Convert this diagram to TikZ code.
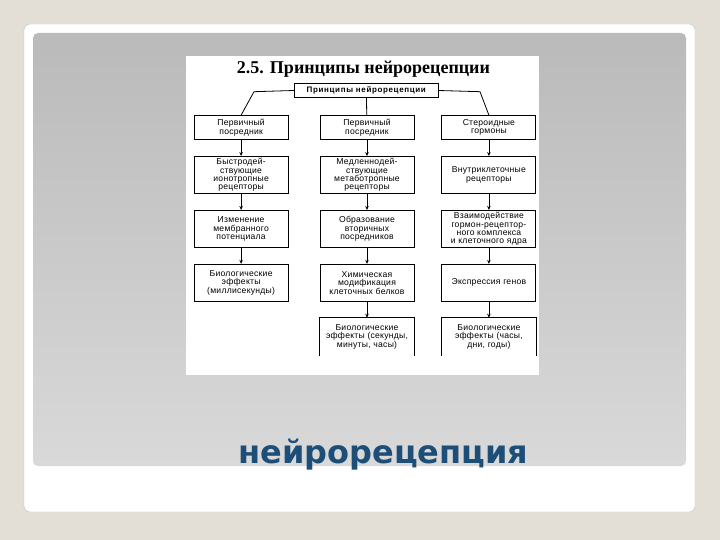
\documentclass[tikz,border=0pt]{standalone}
\usepackage{xcolor}
\usepackage{fontspec}
\usepackage{tikz}
\usetikzlibrary{positioning, arrows.meta}
\newfontfamily\boxfont[LetterSpace=3]{Liberation Sans}
\newfontfamily\topfont[LetterSpace=8]{Liberation Sans}
\newfontfamily\headfont{Liberation Serif}
\newfontfamily\titlefont{DejaVu Sans}
\definecolor{slide_bg}{RGB}{227,223,215}
\definecolor{panel_top}{RGB}{186,186,186}
\definecolor{panel_bottom}{RGB}{217,217,217}
\definecolor{title_blue}{RGB}{28,78,120}
\tikzset{
    box_style/.style={
        rectangle,            % 方框
        draw=black,           % 边框颜色
        line width=0.9pt,     % 边框粗细
        fill=white,
        minimum width=94pt,   % 方框宽度
        minimum height=37pt,  % 方框高度
        inner sep=1pt,
        align=center,
        font=\boxfont\fontsize{8.6}{8.3}\selectfont
    },
    open_style/.style={
        box_style,
        draw=none             % 下边没有边框
    },
    line_style/.style={
        line width=0.8pt
    },
    arrow_style/.style={
        -{Stealth[length=4pt,width=3.5pt]}, % 小箭头
        line width=0.8pt
    }
}
\begin{document}
\begin{tikzpicture}[x=1pt, y=-1pt, node distance=16pt]
    % 0. 背景与幻灯片
    \useasboundingbox (0,0) rectangle (720,540);
    \fill[slide_bg] (0,0) rectangle (720,540);
    \draw[fill=white, draw=black!25, rounded corners=6pt] (24,24) rectangle (695,512);
    \shade[top color=panel_top, bottom color=panel_bottom, rounded corners=5pt] (33,33) rectangle (686,466);
    \fill[white] (186,56) rectangle (539,375);

    % 1. 标题
    \node[font=\headfont\bfseries\fontsize{18}{20}\selectfont] (head) at (363.5,69.5) {2.5. Принципы нейрорецепции};
    \node[box_style, minimum width=144pt, minimum height=14.4pt, inner sep=0pt,
          font=\topfont\bfseries\fontsize{8}{8}\selectfont] (top) at (366.3,90.5) {Принципы нейрорецепции};

    % 2. 定义节点位置
    \node[box_style, minimum height=24pt] (c2r1) at (367,127.6) {Первичный\\посредник};
    \node[box_style, minimum height=24pt, left=31pt of c2r1] (c1r1) {Первичный\\посредник};
    \node[box_style, minimum height=24pt, right=27pt of c2r1] (c3r1) {Стероидные\\гормоны};

    \node[box_style, below=of c1r1] (c1r2) {Быстродей-\\ствующие\\ионотропные\\рецепторы};
    \node[box_style, below=of c2r1] (c2r2) {Медленнодей-\\ствующие\\метаботропные\\рецепторы};
    \node[box_style, below=of c3r1] (c3r2) {Внутриклеточные\\рецепторы};

    \node[box_style, below=of c1r2] (c1r3) {Изменение\\мембранного\\потенциала};
    \node[box_style, below=of c2r2] (c2r3) {Образование\\вторичных\\посредников};
    \node[box_style, below=of c3r2] (c3r3) {Взаимодействие\\гормон-рецептор-\\ного комплекса\\и клеточного ядра};

    \node[box_style, below=of c1r3] (c1r4) {Биологические\\эффекты\\(миллисекунды)};
    \node[box_style, below=of c2r3] (c2r4) {Химическая\\модификация\\клеточных белков};
    \node[box_style, below=of c3r3] (c3r4) {Экспрессия генов};

    \node[open_style, below=of c2r4] (c2r5) {Биологические\\эффекты (секунды,\\минуты, часы)};
    \node[open_style, below=of c3r4] (c3r5) {Биологические\\эффекты (часы,\\дни, годы)};
    \draw[line_style] (c2r5.south west) |- (c2r5.north east) -- (c2r5.south east);
    \draw[line_style] (c3r5.south west) |- (c3r5.north east) -- (c3r5.south east);

    % 3. 顶部的分支连线
    \coordinate (lbend) at (254,91.7);
    \coordinate (rbend) at (480,91.7);
    \draw[line_style] (top.west) -- (lbend) -- (c1r1.north);
    \draw[line_style] (top.east) -- (rbend) -- (c3r1.north);
    \draw[line_style] (top) -- (c2r1);

    % 4. 绘制带箭头的连线
    \draw[arrow_style] (c1r1) -- (c1r2);
    \draw[arrow_style] (c1r2) -- (c1r3);
    \draw[arrow_style] (c1r3) -- (c1r4);
    \draw[arrow_style] (c2r1) -- (c2r2);
    \draw[arrow_style] (c2r2) -- (c2r3);
    \draw[arrow_style] (c2r3) -- (c2r4);
    \draw[arrow_style] (c2r4) -- (c2r5);
    \draw[arrow_style] (c3r1) -- (c3r2);
    \draw[arrow_style] (c3r2) -- (c3r3);
    \draw[arrow_style] (c3r3) -- (c3r4);
    \draw[arrow_style] (c3r4) -- (c3r5);

    % 5. 幻灯片标题
    \node[anchor=base, text=title_blue, font=\titlefont\bfseries\fontsize{32}{36}\selectfont] (title) at (383.5,463) {нейрорецепция};
\end{tikzpicture}
\end{document}
